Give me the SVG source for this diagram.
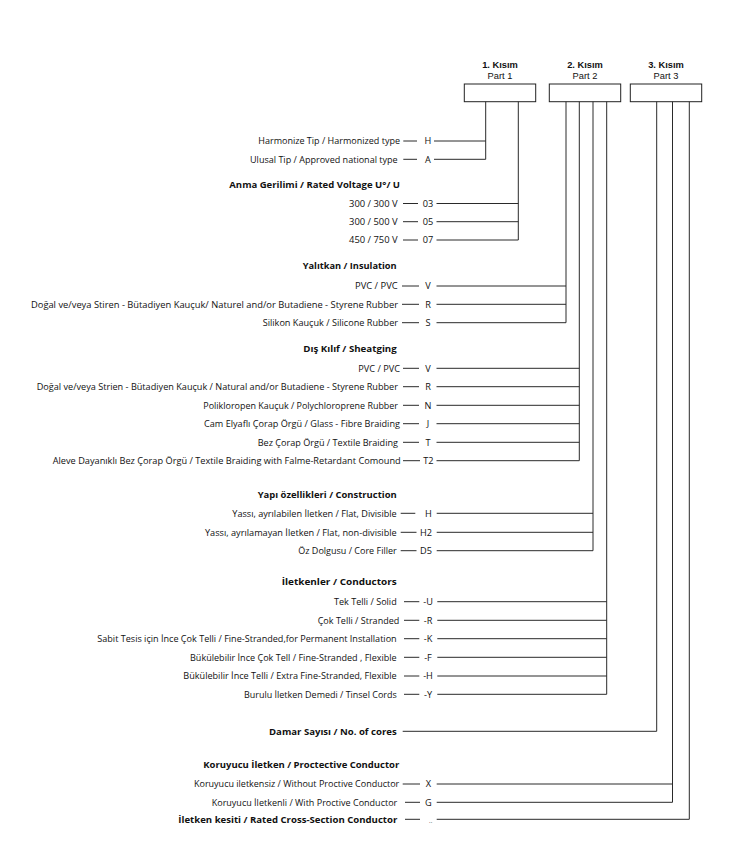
<svg xmlns="http://www.w3.org/2000/svg" width="752" height="868" viewBox="0 0 752 868">
<style>
text{font-family:"Open Sans","Liberation Sans",Arial,sans-serif;font-size:9.2px;fill:#111}
.h{font-family:"Liberation Sans",Arial,sans-serif;font-size:9.3px}
.b{font-weight:bold}
.e{text-anchor:end}
.m{text-anchor:middle}
.ln{stroke:#2a2a2a;stroke-width:1;fill:none}
.bx{fill:#fff;stroke:#222;stroke-width:1}
</style>
<rect width="752" height="868" fill="#fff"/>
<g id="part1">
<text class="h b m" x="500" y="68">1. Kısım</text>
<text class="h m" x="500" y="78.6">Part 1</text>
<rect class="bx" x="464.3" y="84" width="71.4" height="17.7"/>
</g>
<g id="part2">
<text class="h b m" x="585" y="68">2. Kısım</text>
<text class="h m" x="585" y="78.6">Part 2</text>
<rect class="bx" x="549.3" y="84" width="71.4" height="17.7"/>
</g>
<g id="part3">
<text class="h b m" x="666" y="68">3. Kısım</text>
<text class="h m" x="666" y="78.6">Part 3</text>
<rect class="bx" x="630.3" y="84" width="71.4" height="17.7"/>
</g>
<g id="connectors" class="ln">
<path d="M485.7 101.7V159.3M518.3 101.7V240M566 101.7V322.7M579.3 101.7V460.7M593 101.7V550.7M606.7 101.7V694.3M656.7 101.7V731.3M672.5 101.7V802.3M689.3 101.7V819.3"/>
<path d="M403.3 141H417M434 141H485.7M403.3 159.3H417M434 159.3H485.7"/>
<path d="M403 203.5H418M436.5 203.5H518.3M403 221.7H418M436.5 221.7H518.3M403 240H418M436.5 240H518.3"/>
<path d="M402 286H419M436.5 286H566M402 304.3H419M436.5 304.3H566M402 322.7H419M436.5 322.7H566"/>
<path d="M403 368.3H419M436.5 368.3H579.3M403 386.7H419M436.5 386.7H579.3M403 405.3H419M436.5 405.3H579.3M403 423.7H419M436.5 423.7H579.3M403 442.3H419M436.5 442.3H579.3M403 460.7H420M436.5 460.7H579.3"/>
<path d="M400.7 513.3H415.3M436.7 513.3H593M400.7 532.3H416.5M436.7 532.3H593M400.7 550.7H416.5M436.7 550.7H593"/>
<path d="M404 601.7H419.3M437.3 601.7H606.7M404 620.3H419.3M437.3 620.3H606.7M404 638.7H419.3M437.3 638.7H606.7M404 657.3H419.3M437.3 657.3H606.7M404 676H419.3M437.3 676H606.7M404 694.3H419.3M437.3 694.3H606.7"/>
<path d="M402.7 731.3H656.7"/>
<path d="M402.7 784H420M436.7 784H672.5M405 802.3H420M436.7 802.3H672.5M405 819.3H420M436.7 819.3H689.3"/>
</g>
<g id="type">
<text class="e" x="400" y="144.3" textLength="141.7" lengthAdjust="spacingAndGlyphs">Harmonize Tip / Harmonized type</text>
<text class="m" x="428" y="144.3">H</text>
<text class="e" x="397.7" y="162.6" textLength="147.7" lengthAdjust="spacingAndGlyphs">Ulusal Tip / Approved national type</text>
<text class="m" x="428" y="162.6">A</text>
</g>
<g id="voltage">
<text class="b e" x="400" y="187.5" textLength="170.7" lengthAdjust="spacingAndGlyphs">Anma Gerilimi / Rated Voltage U°/ U</text>
<text class="e" x="397.7" y="206.8" textLength="48.7" lengthAdjust="spacingAndGlyphs">300 / 300 V</text>
<text class="m" x="428" y="206.8">03</text>
<text class="e" x="397.7" y="225" textLength="48.7" lengthAdjust="spacingAndGlyphs">300 / 500 V</text>
<text class="m" x="428" y="225">05</text>
<text class="e" x="397.7" y="243.3" textLength="48.7" lengthAdjust="spacingAndGlyphs">450 / 750 V</text>
<text class="m" x="428" y="243.3">07</text>
</g>
<g id="insulation">
<text class="b e" x="396.7" y="268.5" textLength="94" lengthAdjust="spacingAndGlyphs">Yalıtkan / Insulation</text>
<text class="e" x="397.7" y="289.3" textLength="42.7" lengthAdjust="spacingAndGlyphs">PVC / PVC</text>
<text class="m" x="428" y="289.3">V</text>
<text class="e" x="398" y="307.6" textLength="367" lengthAdjust="spacingAndGlyphs">Doğal ve/veya Stiren - Bütadiyen Kauçuk/ Naturel and/or Butadiene - Styrene Rubber</text>
<text class="m" x="428" y="307.6">R</text>
<text class="e" x="398" y="326" textLength="135.3" lengthAdjust="spacingAndGlyphs">Silikon Kauçuk / Silicone Rubber</text>
<text class="m" x="428" y="326">S</text>
</g>
<g id="sheath">
<text class="b e" x="396.7" y="352.2" textLength="93.4" lengthAdjust="spacingAndGlyphs">Dış Kılıf / Sheatging</text>
<text class="e" x="400" y="371.6" textLength="41.7" lengthAdjust="spacingAndGlyphs">PVC / PVC</text>
<text class="m" x="428" y="371.6">V</text>
<text class="e" x="398" y="390" textLength="361.3" lengthAdjust="spacingAndGlyphs">Doğal ve/veya Strien - Bütadiyen Kauçuk / Natural and/or Butadiene - Styrene Rubber</text>
<text class="m" x="428" y="390">R</text>
<text class="e" x="398" y="408.6" textLength="194.7" lengthAdjust="spacingAndGlyphs">Polikloropen Kauçuk / Polychloroprene Rubber</text>
<text class="m" x="428" y="408.6">N</text>
<text class="e" x="400" y="427" textLength="196" lengthAdjust="spacingAndGlyphs">Cam Elyaflı Çorap Örgü / Glass - Fibre Braiding</text>
<text class="m" x="428" y="427">J</text>
<text class="e" x="398" y="445.6" textLength="140.3" lengthAdjust="spacingAndGlyphs">Bez Çorap Örgü / Textile Braiding</text>
<text class="m" x="428" y="445.6">T</text>
<text class="e" x="400.7" y="464" textLength="348" lengthAdjust="spacingAndGlyphs">Aleve Dayanıklı Bez Çorap Örgü / Textile Braiding with Falme-Retardant Comound</text>
<text class="m" x="428.3" y="464">T2</text>
</g>
<g id="construction">
<text class="b e" x="396.7" y="498.3" textLength="139" lengthAdjust="spacingAndGlyphs">Yapı özellikleri / Construction</text>
<text class="e" x="396.7" y="516.6" textLength="164.4" lengthAdjust="spacingAndGlyphs">Yassı, ayrılabilen İletken / Flat, Divisible</text>
<text class="m" x="428.3" y="516.6">H</text>
<text class="e" x="396.7" y="535.6" textLength="191.7" lengthAdjust="spacingAndGlyphs">Yassı, ayrılamayan İletken / Flat, non-divisible</text>
<text class="m" x="426" y="535.6">H2</text>
<text class="e" x="396.7" y="554" textLength="98.4" lengthAdjust="spacingAndGlyphs">Öz Dolgusu / Core Filler</text>
<text class="m" x="426" y="554">D5</text>
</g>
<g id="conductors">
<text class="b e" x="396.7" y="585" textLength="115" lengthAdjust="spacingAndGlyphs">İletkenler / Conductors</text>
<text class="e" x="396.7" y="605" textLength="62.7" lengthAdjust="spacingAndGlyphs">Tek Telli / Solid</text>
<text class="m" x="428" y="605">-U</text>
<text class="e" x="399.3" y="623.6" textLength="81.6" lengthAdjust="spacingAndGlyphs">Çok Telli / Stranded</text>
<text class="m" x="428" y="623.6">-R</text>
<text class="e" x="396.7" y="642" textLength="299.4" lengthAdjust="spacingAndGlyphs">Sabit Tesis için İnce Çok Telli / Fine-Stranded,for Permanent Installation</text>
<text class="m" x="428" y="642">-K</text>
<text class="e" x="396.7" y="660.6" textLength="206.7" lengthAdjust="spacingAndGlyphs">Bükülebilir İnce Çok Tell / Fine-Stranded , Flexible</text>
<text class="m" x="428" y="660.6">-F</text>
<text class="e" x="396.7" y="679.3" textLength="213.4" lengthAdjust="spacingAndGlyphs">Bükülebilir İnce Telli / Extra Fine-Stranded, Flexible</text>
<text class="m" x="428" y="679.3">-H</text>
<text class="e" x="396.7" y="697.6" textLength="152.7" lengthAdjust="spacingAndGlyphs">Burulu İletken Demedi / Tinsel Cords</text>
<text class="m" x="428" y="697.6">-Y</text>
</g>
<g id="cores">
<text class="b e" x="396.7" y="734.6" textLength="127.7" lengthAdjust="spacingAndGlyphs">Damar Sayısı / No. of cores</text>
</g>
<g id="protective">
<text class="b e" x="399.3" y="767.6" textLength="196" lengthAdjust="spacingAndGlyphs">Koruyucu İletken / Proctective Conductor</text>
<text class="e" x="399.3" y="787.3" textLength="205.3" lengthAdjust="spacingAndGlyphs">Koruyucu iletkensiz / Without Proctive Conductor</text>
<text class="m" x="428.3" y="787.3">X</text>
<text class="e" x="397.3" y="805.6" textLength="185.6" lengthAdjust="spacingAndGlyphs">Koruyucu İletkenli / With Proctive Conductor</text>
<text class="m" x="428.3" y="805.6">G</text>
</g>
<g id="cross-section">
<text class="b e" x="397.3" y="822.6" textLength="219" lengthAdjust="spacingAndGlyphs">İletken kesiti / Rated Cross-Section Conductor</text>
<text class="m" x="430.7" y="822.6" style="font-size:6px">..</text>
</g>
</svg>
